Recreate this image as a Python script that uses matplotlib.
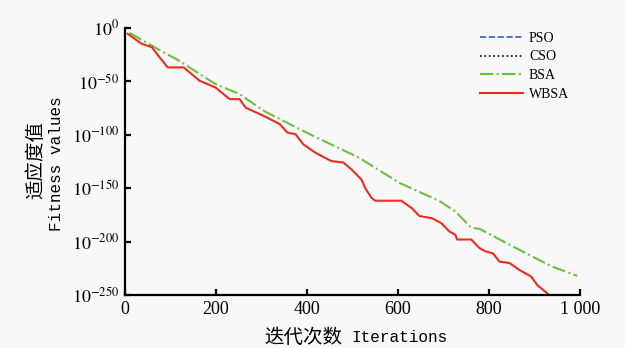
"""Convergence curves of PSO / CSO / BSA / WBSA"""
import math
import matplotlib
matplotlib.use('Agg')
import matplotlib.pyplot as plt
from matplotlib.ticker import FixedLocator, FuncFormatter

plt.rcParams['font.family'] = ['Liberation Serif', 'Noto Sans CJK SC']
plt.rcParams['mathtext.fontset'] = 'stix'

# ---------- data (iteration, log10 fitness) ----------
pso_iter, pso_exp = [], []
cso_iter, cso_exp = [], []

bsa_iter = [10, 85, 112, 199, 252, 305, 392, 428, 515, 603, 691, 726, 761, 779, 867, 937, 994]
bsa_exp = [-4.7, -23, -29, -52.6, -62, -77.7, -96.5, -104, -121.6, -145, -162, -171.7,
           -187, -188, -207.7, -223, -232]

wbsa_iter = [6, 37, 59, 76, 94, 129, 164, 199, 230, 252, 265, 305, 340, 357, 375, 392,
             419, 454, 480, 498, 520, 528, 542, 550, 607, 630, 647, 674, 695, 713, 726,
             730, 761, 779, 792, 809, 823, 845, 867, 893, 906, 924, 932, 945]
wbsa_exp = [-5.6, -15, -18, -27.6, -37, -37, -49.5, -55.8, -66.7, -66.7, -74.6, -82.4,
            -90, -98, -99.6, -109, -117, -124.7, -126, -132.5, -142, -150, -159, -161.7,
            -161.7, -168.5, -176, -178, -182.6, -190.5, -193.6, -198, -198, -206, -209,
            -211, -218.7, -220, -226.5, -232.8, -240.6, -246.9, -250, -250]

ytick_exp = [0, -50, -100, -150, -200, -250]
xticks = [0, 200, 400, 600, 800, 1000]
xtick_labels = ['0', '200', '400', '600', '800', '1 000']

fig = plt.figure(figsize=(6.25, 3.48), dpi=100, facecolor='#f8f8f8')
ax = fig.add_axes([0.2, 0.152, 0.728, 0.768])
ax.set_facecolor('#f8f8f8')

ax.plot(pso_iter, [10.0 ** e for e in pso_exp], '--', color='#2f5fc4', lw=1.2, label='PSO')
ax.plot(cso_iter, [10.0 ** e for e in cso_exp], ':', color='black', lw=1.2, label='CSO')
ax.plot(bsa_iter, [10.0 ** e for e in bsa_exp], '-.', color='#6cbf3c', lw=1.5, label='BSA')
ax.plot(wbsa_iter, [10.0 ** e for e in wbsa_exp], '-', color='#ee2a1f', lw=1.5, label='WBSA')

ax.set_yscale('log')
ax.set_ylim(1e-250, 1.0)
ax.set_xlim(0, 1000)
ax.yaxis.set_major_locator(FixedLocator([10.0 ** e for e in ytick_exp]))
ax.yaxis.set_minor_locator(FixedLocator([]))
ax.yaxis.set_major_formatter(FuncFormatter(lambda v, p: r'$10^{%d}$' % round(math.log10(v))))
ax.set_xticks(xticks)
ax.set_xticklabels(xtick_labels)

for s in ['top', 'right']:
    ax.spines[s].set_visible(False)
for s in ['left', 'bottom']:
    ax.spines[s].set_linewidth(1.6)
ax.tick_params(direction='in', length=4, width=1.6, labelsize=13, pad=4)

# axis titles: Chinese part larger, English part in a mono face
fig.text(0.548, 0.03, '迭代次数', fontsize=14, family='Noto Sans CJK SC',
         ha='right', va='center')
fig.text(0.563, 0.03, 'Iterations', fontsize=11.5, family='Liberation Mono',
         ha='left', va='center')
fig.text(0.058, 0.54, '适应度值', fontsize=14, family='Noto Sans CJK SC',
         rotation=90, ha='center', va='center')
fig.text(0.09, 0.53, 'Fitness values', fontsize=11.5, family='Liberation Mono',
         rotation=90, ha='center', va='center')

ax.legend(loc='upper left', bbox_to_anchor=(0.781, 0.985), frameon=False, fontsize=10,
          handlelength=3.1, handletextpad=0.4, labelspacing=0.4,
          borderpad=0, borderaxespad=0)

plt.savefig('out.png', dpi=100, facecolor=fig.get_facecolor())
plt.close()
